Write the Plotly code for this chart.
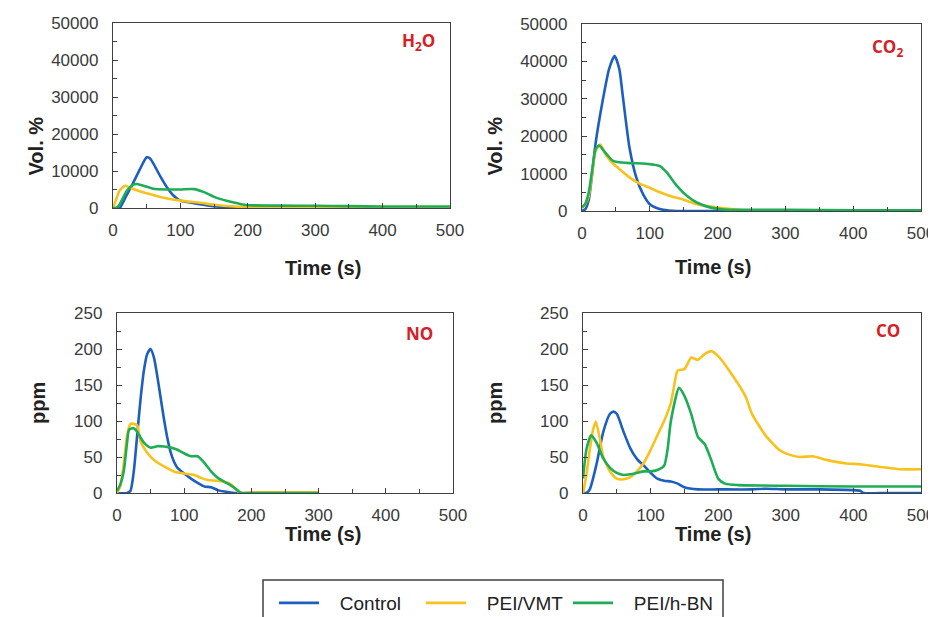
import plotly.graph_objects as go

# ---------------- data ----------------
series_names = ["Control", "PEI/VMT", "PEI/h-BN"]
colors = ["#1D5FBF", "#F7C21C", "#1EAD55"]

# H2O (Vol. %)
h2o_ctrl_t = [0, 5, 10, 20, 30, 40, 50, 55, 60, 70, 80, 90, 100, 120, 140, 160, 180, 200, 250, 300, 350, 400, 450, 500]
h2o_ctrl_v = [0, 0, 0, 3400, 6800, 10500, 13700, 13400, 12000, 8600, 5600, 3300, 2000, 1300, 700, 300, 150, 100, 200, 200, 150, 100, 100, 100]
h2o_vmt_t = [0, 5, 10, 18, 25, 35, 50, 70, 100, 130, 150, 180, 200, 230, 300, 400, 500]
h2o_vmt_v = [0, 2500, 4800, 6000, 5500, 4800, 4000, 3000, 2000, 1400, 900, 400, 200, 0, 0, 0, 0]
h2o_bn_t = [0, 5, 10, 20, 30, 35, 45, 60, 80, 100, 120, 135, 150, 170, 195, 210, 250, 300, 350, 400, 450, 500]
h2o_bn_v = [0, 0, 1000, 4500, 6300, 6500, 6000, 5200, 5000, 5000, 5100, 4300, 3000, 1900, 900, 700, 650, 600, 500, 400, 400, 400]

# CO2 (Vol. %)
co2_ctrl_t = [0, 5, 10, 15, 20, 30, 40, 48, 55, 60, 70, 80, 90, 100, 110, 120, 140, 200, 300, 400, 500]
co2_ctrl_v = [0, 500, 3000, 10000, 18000, 29000, 38000, 41500, 38000, 31000, 17000, 9000, 4500, 1800, 800, 300, 0, 0, 0, 0, 0]
co2_vmt_t = [0, 5, 10, 15, 20, 27, 35, 45, 56, 70, 85, 100, 115, 130, 150, 170, 200, 220, 238, 260, 300, 400, 500]
co2_vmt_v = [800, 1800, 4000, 10000, 16000, 17800, 15000, 12800, 11100, 9000, 7300, 6200, 5000, 4000, 3000, 1800, 900, 500, 200, 0, 0, 0, 0]
co2_bn_t = [0, 5, 10, 15, 20, 25, 35, 45, 52, 70, 90, 105, 115, 125, 140, 155, 170, 190, 210, 250, 300, 400, 500]
co2_bn_v = [1000, 2000, 5000, 11000, 16500, 17500, 15500, 13500, 13100, 12800, 12700, 12400, 12000, 10300, 6700, 4000, 2200, 900, 400, 300, 300, 200, 200]

# NO (ppm)
no_ctrl_t = [0, 15, 20, 25, 30, 35, 40, 45, 50, 55, 60, 65, 70, 75, 80, 85, 90, 100, 110, 120, 130, 140, 150, 160, 175, 200, 300]
no_ctrl_v = [0, 0, 3, 30, 80, 130, 170, 193, 200, 188, 162, 132, 102, 76, 56, 43, 35, 27, 20, 14, 9, 8, 4, 2, 0, 0, 0]
no_vmt_t = [0, 5, 10, 15, 20, 25, 30, 35, 45, 55, 70, 85, 100, 115, 125, 135, 150, 168, 176, 183, 200, 250, 300]
no_vmt_v = [0, 10, 40, 80, 96, 96, 94, 72, 56, 46, 37, 30, 27, 25, 21, 18, 17, 13, 6, 0, 1, 1, 1]
no_bn_t = [0, 5, 10, 15, 18, 25, 30, 35, 40, 50, 60, 80, 90, 100, 110, 120, 130, 140, 150, 165, 175, 185, 200, 300]
no_bn_v = [3, 12, 30, 70, 88, 90, 85, 77, 70, 63, 65, 63, 60, 55, 51, 51, 42, 30, 21, 13, 7, 0, 0, 0]

# CO (ppm)
co_ctrl_t = [0, 5, 10, 20, 30, 40, 45, 50, 60, 70, 80, 90, 100, 110, 120, 130, 140, 150, 170, 200, 250, 270, 300, 350, 400, 410, 415, 450, 500]
co_ctrl_v = [0, 0, 5, 40, 85, 110, 113, 110, 85, 62, 47, 38, 28, 20, 17, 16, 13, 8, 5, 5, 5, 6, 5, 5, 4, 3, 0, 0, 0]
co_vmt_t = [0, 5, 10, 15, 19, 25, 30, 40, 50, 60, 70, 80, 90, 100, 110, 120, 130, 135, 140, 150, 160, 170, 180, 190, 200, 220, 240, 250, 270, 290, 300, 320, 340, 360, 390, 410, 440, 470, 500]
co_vmt_v = [0, 25, 60, 88, 99, 75, 50, 30, 20, 19, 22, 30, 42, 60, 80, 100, 125, 150, 170, 172, 188, 185, 193, 197, 190, 165, 135, 110, 80, 60, 55, 50, 51, 46, 41, 40, 36, 33, 33]
co_bn_t = [0, 5, 12, 20, 30, 40, 50, 60, 70, 80, 90, 100, 110, 120, 125, 130, 142, 150, 160, 170, 180, 190, 200, 210, 230, 300, 400, 500]
co_bn_v = [20, 60, 80, 70, 48, 35, 28, 25, 26, 28, 30, 30, 32, 38, 60, 100, 146, 135, 110, 78, 68, 45, 20, 13, 11, 10, 9, 9]

panels = [
    ("H<sub>2</sub>O", "Vol. %", [(h2o_ctrl_t, h2o_ctrl_v), (h2o_vmt_t, h2o_vmt_v), (h2o_bn_t, h2o_bn_v)]),
    ("CO<sub>2</sub>", "Vol. %", [(co2_ctrl_t, co2_ctrl_v), (co2_vmt_t, co2_vmt_v), (co2_bn_t, co2_bn_v)]),
    ("NO", "ppm", [(no_ctrl_t, no_ctrl_v), (no_vmt_t, no_vmt_v), (no_bn_t, no_bn_v)]),
    ("CO", "ppm", [(co_ctrl_t, co_ctrl_v), (co_vmt_t, co_vmt_v), (co_bn_t, co_bn_v)]),
]

# ---------------- layout geometry (screen pixels) ----------------
W, H = 936, 617
OFF = 8  # page body margin
boxes = [  # x0, x1, ytop, ybottom
    (113, 450, 23, 208),
    (582, 921, 24, 211),
    (117, 453, 313, 493),
    (583, 921, 313, 493),
]
label_pos = [(437, 42), (905, 47), (435, 333), (902, 330)]     # right edge, centre y
xtitle_pos = [(283, 268), (753, 267), (283, 547), (753, 547)]
ytitle_pos = [(23, 115), (495, 115), (25, 403), (495, 403)]


def px(x):
    return (x - OFF) / W


def py(y):
    return 1 - (y - OFF) / H


fig = go.Figure()
axis_color = "#404040"
FONT = "Arial"
tick_font = dict(family=FONT, size=17, color="#3a3a3a")
pad = "\u00a0\u00a0\u00a0"

for i, (label, ytitle, data) in enumerate(panels):
    n = "" if i == 0 else str(i + 1)
    xa, ya = "x" + n, "y" + n
    for j, (t, v) in enumerate(data):
        fig.add_trace(go.Scatter(
            x=t, y=v, mode="lines", name=pad + series_names[j],
            line=dict(color=colors[j], width=2.6, shape="spline", smoothing=0.6),
            xaxis=xa, yaxis=ya, showlegend=(i == 0),
        ))
    x0, x1, yt, yb = boxes[i]
    big = i < 2
    common = dict(showline=True, linecolor=axis_color, linewidth=1.3, mirror=True,
                  showgrid=False, zeroline=False, ticks="inside", ticklen=5,
                  tickcolor=axis_color, tickfont=tick_font, tickformat="d")
    fig.layout["xaxis" + n] = dict(
        domain=[px(x0), px(x1)], anchor=ya, range=[0, 500], dtick=100,
        minor=dict(dtick=50, ticks="inside", ticklen=4, tickcolor=axis_color),
        ticklabelstandoff=6, **common)
    fig.layout["yaxis" + n] = dict(
        domain=[py(yb), py(yt)], anchor=xa,
        range=[0, 50000] if big else [0, 250], dtick=10000 if big else 50,
        minor=dict(dtick=5000 if big else 25, ticks="inside", ticklen=4, tickcolor=axis_color),
        ticklabelstandoff=10, **common)
    # species label
    lx, ly = label_pos[i]
    fig.add_annotation(x=px(lx), y=py(ly), xref="paper", yref="paper",
                       text="<b>" + label + "</b>", showarrow=False,
                       xanchor="right", yanchor="middle",
                       font=dict(family="Open Sans", size=17, color="#D42027"))
    # axis titles
    tx, ty = xtitle_pos[i]
    fig.add_annotation(x=px(tx), y=py(ty), xref="paper", yref="paper",
                       text="<b>Time (s)</b>", showarrow=False,
                       font=dict(family=FONT, size=20, color="#222222"))
    vx, vy = ytitle_pos[i]
    fig.add_annotation(x=px(vx), y=py(vy), xref="paper", yref="paper",
                       text="<b>" + ytitle + "</b>", showarrow=False, textangle=-90,
                       font=dict(family=FONT, size=20, color="#222222"))

# legend frame (cut by the bottom edge as in the reference)
fig.add_shape(type="rect", xref="paper", yref="paper",
              x0=px(263), x1=px(723), y0=py(650), y1=py(580),
              line=dict(color="#404040", width=1.5), fillcolor="rgba(0,0,0,0)")

fig.update_layout(
    width=W, height=H, margin=dict(l=0, r=0, t=0, b=0, autoexpand=False),
    paper_bgcolor="white", plot_bgcolor="white",
    showlegend=True,
    legend=dict(orientation="h", x=px(274), y=py(584), xanchor="left", yanchor="top",
                borderwidth=0, bgcolor="rgba(0,0,0,0)",
                font=dict(family=FONT, size=19, color="#222222"),
                itemwidth=40, entrywidth=92),
)

fig.write_html("out.html")
